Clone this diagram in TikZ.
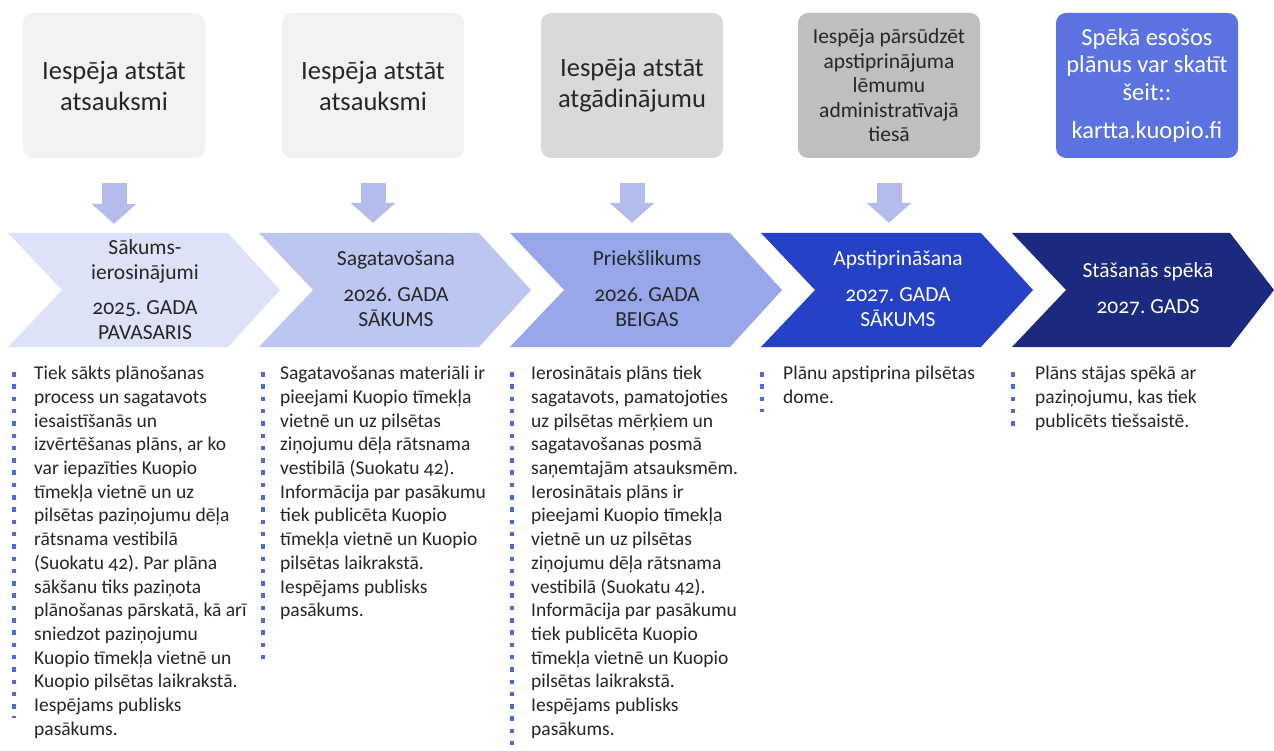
\documentclass[tikz,border=0pt]{standalone}
\usepackage{fontspec}
\setmainfont{Carlito}[Numbers=OldStyle]
\usetikzlibrary{positioning,arrows.meta}

\definecolor{textgrey}{HTML}{262626}
\definecolor{greyA}{HTML}{F2F2F2}
\definecolor{greyB}{HTML}{D9D9D9}
\definecolor{greyC}{HTML}{BFBFBF}
\definecolor{linkblue}{HTML}{5B73E0}
\definecolor{arrowblue}{HTML}{B4BCEC}
\definecolor{chevA}{HTML}{DEE2F8}
\definecolor{chevB}{HTML}{BDC5F1}
\definecolor{chevC}{HTML}{98A7EA}
\definecolor{chevD}{HTML}{2541C5}
\definecolor{chevE}{HTML}{1B2A7E}
\definecolor{dotblue}{HTML}{5068E0}

\begin{document}
\frenchspacing
\begin{tikzpicture}[x=1pt,y=-1pt]
	\tikzstyle{every node} = [text=textgrey, inner sep=0pt]
	\tikzstyle{topbox} = [rounded corners=10pt, minimum width=182pt, minimum height=145pt, align=center, font=\fontsize{26.5}{31}\selectfont]
	\tikzstyle{phase} = [minimum width=166pt, minimum height=114pt, align=center, font=\fontsize{21.5}{25}\selectfont]
	\tikzstyle{notes} = [anchor=north west, align=left, font=\fontsize{19.5}{23.7}\selectfont]
	\tikzstyle{dotcol} = [draw=dotblue, line width=4.5pt, dash pattern=on 4.5pt off 7.8pt]
	\tikzstyle{blockarrow} = [draw=arrowblue, line width=25pt, -{Triangle[width=44pt,length=20pt]}, shorten <=25pt, shorten >=9pt]
	\useasboundingbox (0,0) rectangle (1274,751);

	\node[topbox, fill=greyA] (Box1) at (114,85.5) {Iespēja atstāt\\atsauksmi};
	\node[topbox, fill=greyA] (Box2) at (373,85.5) {Iespēja atstāt\\atsauksmi};
	\node[topbox, fill=greyB] (Box3) at (632,85.5) {Iespēja atstāt\\atgādinājumu};
	\node[topbox, fill=greyC, font=\fontsize{21.5}{24.5}\selectfont] (Box4) at (889,85.5) {Iespēja pārsūdzēt\\apstiprinājuma\\lēmumu\\administratīvajā\\tiesā};
	\node[topbox, fill=linkblue, text=white, font=\fontsize{24.5}{27.5}\selectfont] (Box5) at (1147,85.5) {Spēkā esošos\\plānus var skatīt\\šeit::\\[11pt]kartta.kuopio.fi};

	\fill[chevA] (8,233) -- (228,233) -- (280,290) -- (228,347) -- (8,347) -- (62,290) -- cycle;
	\fill[chevB] (259,233) -- (479,233) -- (531,290) -- (479,347) -- (259,347) -- (313,290) -- cycle;
	\fill[chevC] (510,233) -- (730,233) -- (782,290) -- (730,347) -- (510,347) -- (564,290) -- cycle;
	\fill[chevD] (761,233) -- (981,233) -- (1033,290) -- (981,347) -- (761,347) -- (815,290) -- cycle;
	\fill[chevE] (1012,233) -- (1230,233) -- (1274,290) -- (1230,347) -- (1012,347) -- (1066,290) -- cycle;

	\node[phase] (Phase1) at (145,290) {Sākums-\\ierosinājumi\\[10pt]2025. GADA\\PAVASARIS};
	\node[phase] (Phase2) at (396,289) {Sagatavošana\\[11pt]2026. GADA\\SĀKUMS};
	\node[phase] (Phase3) at (647,289) {Priekšlikums\\[11pt]2026. GADA\\BEIGAS};
	\node[phase, text=white] (Phase4) at (898,289) {Apstiprināšana\\[11pt]2027. GADA\\SĀKUMS};
	\node[phase, text=white] (Phase5) at (1148,289) {Stāšanās spēkā\\[11pt]2027. GADS};

	\draw[blockarrow] (Box1.south) -- (Box1.south |- Phase1.north);
	\draw[blockarrow] (Box2.south) -- (Box2.south |- Phase2.north);
	\draw[blockarrow] (Box3.south) -- (Box3.south |- Phase3.north);
	\draw[blockarrow] (Box4.south) -- (Box4.south |- Phase4.north);

	\draw[dotcol] (14,372) -- (14,718);
	\draw[dotcol] (263,372) -- (263,665);
	\draw[dotcol] (512,372) -- (512,745);
	\draw[dotcol] (762,372) -- (762,412);
	\draw[dotcol] (1013,372) -- (1013,430);

	\node[notes] (Note1) at (34,366) {Tiek sākts plānošanas\\process un sagatavots\\iesaistīšanās un\\izvērtēšanas plāns, ar ko\\var iepazīties Kuopio\\tīmekļa vietnē un uz\\pilsētas paziņojumu dēļa\\rātsnama vestibilā\\(Suokatu 42). Par plāna\\sākšanu tiks paziņota\\plānošanas pārskatā, kā arī\\sniedzot paziņojumu\\Kuopio tīmekļa vietnē un\\Kuopio pilsētas laikrakstā.\\Iespējams publisks\\pasākums.};
	\node[notes] (Note2) at (280,366) {Sagatavošanas materiāli ir\\pieejami Kuopio tīmekļa\\vietnē un uz pilsētas\\ziņojumu dēļa rātsnama\\vestibilā (Suokatu 42).\\Informācija par pasākumu\\tiek publicēta Kuopio\\tīmekļa vietnē un Kuopio\\pilsētas laikrakstā.\\Iespējams publisks\\pasākums.};
	\node[notes] (Note3) at (531,366) {Ierosinātais plāns tiek\\sagatavots, pamatojoties\\uz pilsētas mērķiem un\\sagatavošanas posmā\\saņemtajām atsauksmēm.\\Ierosinātais plāns ir\\pieejami Kuopio tīmekļa\\vietnē un uz pilsētas\\ziņojumu dēļa rātsnama\\vestibilā (Suokatu 42).\\Informācija par pasākumu\\tiek publicēta Kuopio\\tīmekļa vietnē un Kuopio\\pilsētas laikrakstā.\\Iespējams publisks\\pasākums.};
	\node[notes] (Note4) at (783,366) {Plānu apstiprina pilsētas\\dome.};
	\node[notes] (Note5) at (1035,366) {Plāns stājas spēkā ar\\paziņojumu, kas tiek\\publicēts tiešsaistē.};

\end{tikzpicture}
\end{document}
